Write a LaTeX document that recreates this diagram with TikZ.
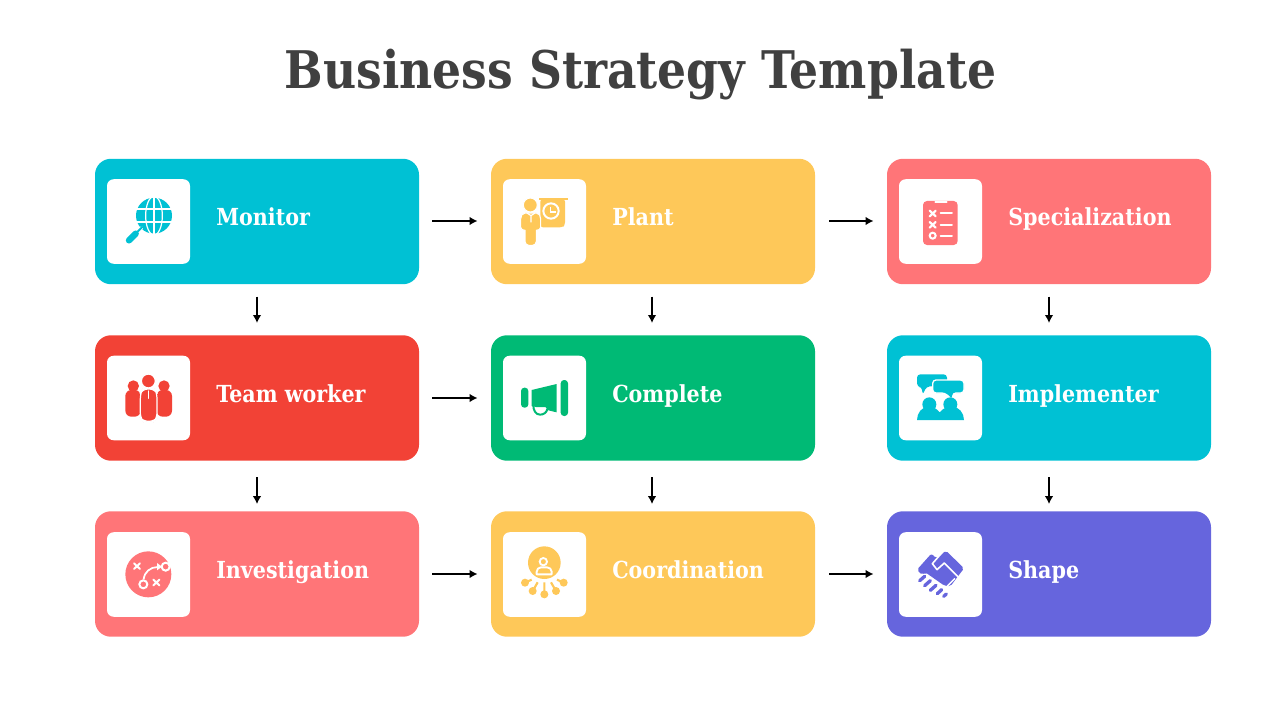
\documentclass[tikz,border=0pt]{standalone}
\usepackage{fontspec}
\setmainfont[FakeStretch=0.88]{DejaVu Serif}
\usetikzlibrary{arrows.meta}
\definecolor{cteal}{HTML}{00C1D4}
\definecolor{cyell}{HTML}{FEC859}
\definecolor{ccoral}{HTML}{FF7578}
\definecolor{cred}{HTML}{F24236}
\definecolor{cgreen}{HTML}{00BA75}
\definecolor{cpurp}{HTML}{6665DD}
\definecolor{ctitle}{HTML}{404040}
\newcommand{\iconat}[3]{\begin{scope}[shift={(#1,#2)},x=.25pt,y=-.25pt]#3\end{scope}}
\tikzset{
 card/.style={draw=none,rounded corners=12pt,minimum width=243pt,minimum height=94.1pt,inner sep=0pt},
 iconbox/.style={fill=white,draw=none,rounded corners=5pt,minimum width=62.25pt,minimum height=63.4pt,inner sep=0pt},
 lab/.style={anchor=base west,text=white,font=\fontsize{17.6pt}{20pt}\selectfont\bfseries,inner sep=0pt},
 arr/.style={draw=black,line width=1.4pt,-{Latex[length=6pt,width=6.5pt]}},
 wl/.style={draw=white,line cap=round,line join=round},
}
\begin{document}
\begin{tikzpicture}[x=.75pt,y=-.75pt]
\useasboundingbox (0,0) rectangle (1280,720);
\node[anchor=base,text=ctitle,font=\fontsize{38.9pt}{46pt}\selectfont\bfseries,inner sep=0pt] (title) at (640.5,89) {Business Strategy Template};
% cards
\node[card,fill=cteal] (a1) at (257,221.5) {};
\node[card,fill=cyell] (a2) at (653,221.5) {};
\node[card,fill=ccoral] (a3) at (1049,221.5) {};
\node[card,fill=cred] (b1) at (257,398) {};
\node[card,fill=cgreen] (b2) at (653,398) {};
\node[card,fill=cteal] (b3) at (1049,398) {};
\node[card,fill=ccoral] (c1) at (257,574) {};
\node[card,fill=cyell] (c2) at (653,574) {};
\node[card,fill=cpurp] (c3) at (1049,574) {};
% icon boxes
\node[iconbox] (ia1) at (148.5,221.5) {};
\node[iconbox] (ia2) at (544.5,221.5) {};
\node[iconbox] (ia3) at (940.5,221.5) {};
\node[iconbox] (ib1) at (148.5,398) {};
\node[iconbox] (ib2) at (544.5,398) {};
\node[iconbox] (ib3) at (940.5,398) {};
\node[iconbox] (ic1) at (148.5,574.5) {};
\node[iconbox] (ic2) at (544.5,574.5) {};
\node[iconbox] (ic3) at (940.5,574.5) {};
% labels
\node[lab] (la1) at (216,226) {Monitor};
\node[lab] (la2) at (612,226) {Plant};
\node[lab] (la3) at (1008,226) {Specialization};
\node[lab] (lb1) at (216,402.5) {Team worker};
\node[lab] (lb2) at (612,402.5) {Complete};
\node[lab] (lb3) at (1008,402.5) {Implementer};
\node[lab] (lc1) at (216,578.5) {Investigation};
\node[lab] (lc2) at (612,578.5) {Coordination};
\node[lab] (lc3) at (1008,578.5) {Shape};
% arrows
\foreach \p/\q/\s/\y in {a1/a2/9.75pt/.375pt,a2/a3/10.5pt/.375pt,b1/b2/9.75pt/0pt,c1/c2/9.75pt/0pt,c2/c3/10.5pt/0pt}
  \draw[arr,shorten <=\s,shorten >=9.9pt] ([yshift=\y]\p.east) -- ([yshift=\y]\q.west);
\foreach \p/\q/\x in {a1/b1/0pt,a2/b2/-.75pt,a3/b3/0pt}
  \draw[arr,shorten <=9pt,shorten >=9pt] ([xshift=\x]\p.south) -- ([xshift=\x]\q.north);
\foreach \p/\q/\x in {b1/c1/0pt,b2/c2/-.75pt,b3/c3/0pt}
  \draw[arr,shorten <=12pt,shorten >=5.2pt] ([xshift=\x]\p.south) -- ([xshift=\x]\q.north);
% --- globe
\iconat{95}{159}{
 \fill[cteal] (177,170) circle[radius=54];
 \draw[wl,line width=.9pt] (177,170) ellipse[x radius=25,y radius=58];
 \draw[wl,line width=.9pt,line cap=butt] (177,110)--(177,230) (115,150)--(240,150) (115,189)--(240,189);
 \draw[wl,line width=2.4pt] (128,218)--(140,206);
 \draw[cteal,line width=1.5pt] (118,228)--(143,203);
 \draw[cteal,line width=4.8pt,line cap=round] (102,244)--(122,224);
}
% --- presenter
\iconat{491}{159}{
 \fill[cyell] (145,116) rectangle (232,124);
 \fill[cyell,rounded corners=2pt] (148,120)--(222,120)--(222,198)--(214,205)--(148,205)--cycle;
 \draw[white,line width=1.5pt] (180,156) circle[radius=23];
 \draw[white,line width=1pt] (178,143)--(178,159)--(194,159);
 \draw[white,fill=cyell,line width=.8pt] (118,138) circle[radius=21];
 \draw[white,fill=cyell,line width=.8pt] (102,162)--(136,162) to[out=0,in=90] (149,180)--(149,205) to[out=-90,in=0] (136,214)--(136,247) to[out=-90,in=0] (125,259)--(113,259) to[out=180,in=-90] (102,247)--(102,214) to[out=180,in=-90] (89,205)--(89,180) to[out=90,in=180] cycle;
 \draw[white,line width=.9pt] (108,162)--(120,170)--(132,162) (120,170)--(120,190);
}
% --- clipboard
\iconat{887}{159}{
 \fill[ccoral,rounded corners=3pt] (108,126) rectangle (212,258);
 \draw[wl,line width=1.5pt] (145,129)--(179,129);
 \draw[wl,line width=1.6pt] (128,155)--(146,172) (146,155)--(128,172) (128,189)--(146,206) (146,189)--(128,206);
 \draw[white,line width=1.5pt] (137,230) circle[radius=9];
 \draw[wl,line width=1.4pt] (161,163)--(195,163) (161,197)--(195,197) (161,230)--(195,230);
}
% --- team
\iconat{95}{335}{
 \fill[cred] (115,153) circle[radius=17] (207,153) circle[radius=17];
 \fill[cred,rounded corners=4.5pt] (91,165) rectangle (137,245);
 \fill[cred,rounded corners=4.5pt] (185,165) rectangle (231,245);
 \draw[white,fill=cred,line width=.9pt,rounded corners=4pt] (136,250)--(136,175)--(142,162)--(180,162)--(186,175)--(186,250)--(178,259)--(144,259)--cycle;
 \draw[white,fill=cred,line width=1pt] (160,138) circle[radius=21];
 \draw[wl,line width=1pt] (160,168)--(160,190);
}
% --- megaphone
\iconat{491}{335}{
 \fill[cgreen,rounded corners=2.5pt] (90,158) rectangle (112,218);
 \fill[cgreen,rounded corners=2.5pt] (209,135) rectangle (231,243);
 \draw[cgreen,line width=1.5pt] (127,212) to[out=-90,in=180] (147,239) to[out=0,in=-100] (169,222);
 \fill[cgreen] (122,165)--(197,147)--(197,232)--(172,226)--(163,216)--(135,216)--(122,213)--cycle;
}
% --- bubbles
\iconat{887}{335}{
 \fill[cteal,rounded corners=2.5pt] (90,118)--(180,118)--(180,150)--(118,155)--(107,180)--(104,155)--(90,155)--cycle;
 \draw[white,fill=cteal,line width=1pt,rounded corners=2.5pt] (137,135)--(231,135)--(231,174)--(197,174)--(197,196)--(174,174)--(137,174)--cycle;
 \fill[cteal] (127,208) circle[radius=21] (190,208) circle[radius=21];
 \fill[cteal] (90,255) to[out=90,in=180] (125,215) to[out=0,in=130] (158,232) to[out=50,in=180] (195,215) to[out=0,in=90] (231,255)--cycle;
}
% --- play
\iconat{95}{511}{
 \fill[ccoral] (160,190) circle[radius=69];
 \draw[wl,line width=1.5pt] (117,157)--(135,174) (135,157)--(117,174) (175,206)--(193,223) (193,206)--(175,223);
 \draw[white,line width=1.5pt] (145,220) circle[radius=12];
 \draw[white,fill=ccoral,line width=1.5pt] (212,167) circle[radius=12];
 \draw[white,line width=1.3pt] (146,205) to[out=85,in=180] (188,168);
 \fill[white] (186,156)--(201,167)--(186,178)--cycle;
}
% --- network
\iconat{491}{511}{
 \fill[cyell] (160,155) circle[radius=49];
 \draw[white,line width=1.4pt] (157,152) circle[radius=11];
 \draw[white,line width=1.4pt,line join=round] (137,190)--(137,182) to[out=90,in=180] (150,169)--(168,169) to[out=0,in=90] (182,182)--(182,190)--cycle;
 \fill[cyell] (102,215) circle[radius=12] (125,240) circle[radius=12] (160,250) circle[radius=12] (195,240) circle[radius=12] (218,215) circle[radius=12];
 \draw[cyell,line width=1.6pt] (102,215)--(122,206) (125,240)--(140,214) (160,250)--(160,214) (195,240)--(180,214) (218,215)--(198,206);
}
% --- handshake
\iconat{887}{511}{
 \fill[cpurp,rounded corners=1.5pt] (90,176)--(133,128)--(148,142)--(177,119)--(231,172)--(190,226)--(172,224)--(115,184)--(105,192)--cycle;
 \draw[wl,line width=1.2pt] (165,125)--(136,158)--(150,176)--(172,156)--(214,198);
 \draw[wl,line width=1pt] (178,228)--(203,203);
 \draw[cpurp,line width=2.5pt,line cap=round] (98,209)--(113,196) (113,224)--(130,209) (130,238)--(147,223) (151,248)--(164,236) (170,256)--(178,249);
}
\end{tikzpicture}
\end{document}
